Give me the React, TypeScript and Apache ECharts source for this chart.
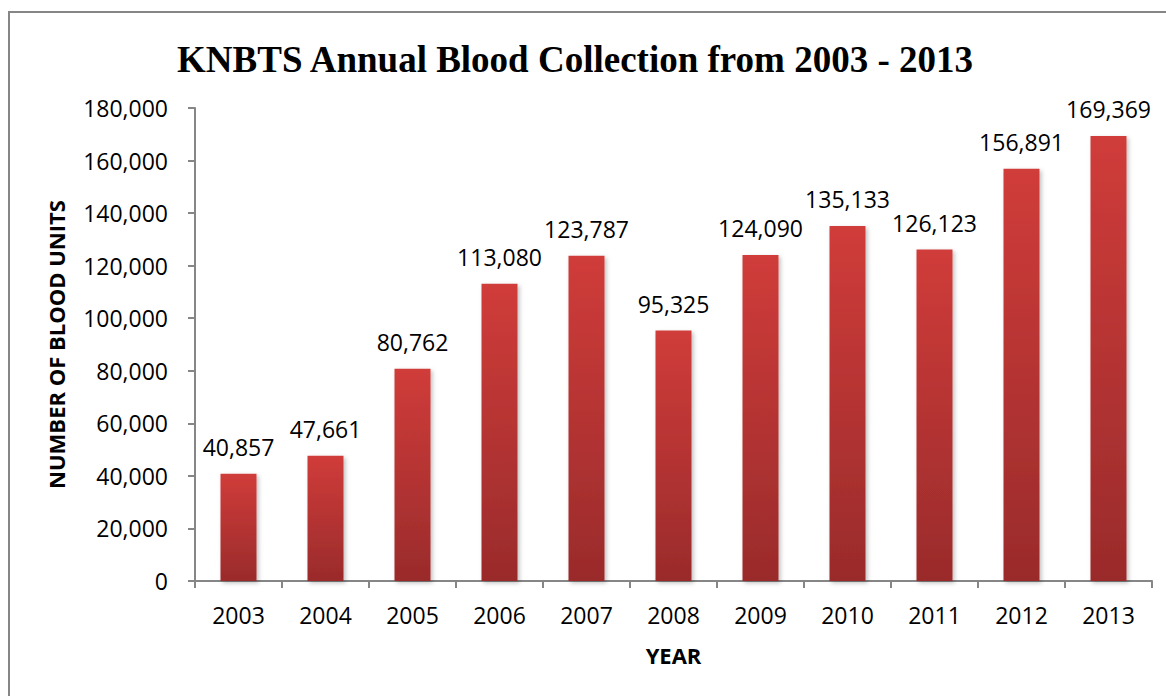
import React, { useEffect, useRef } from "react";
import * as echarts from "echarts";

const years = ["2003", "2004", "2005", "2006", "2007", "2008", "2009", "2010", "2011", "2012", "2013"];
const units = [40857, 47661, 80762, 113080, 123787, 95325, 124090, 135133, 126123, 156891, 169369];
const titleText = "KNBTS Annual Blood Collection from 2003 - 2013";
const yAxisName = "NUMBER OF BLOOD UNITS";
const xAxisName = "YEAR";

const fmt = (v: number) => v.toLocaleString("en-US");
const FONT = "'Open Sans', 'Noto Sans', sans-serif";
const GRAY = "#868686";

export default function App() {
  const ref = useRef<HTMLDivElement>(null);
  useEffect(() => {
    if (!ref.current) return;
    const chart = echarts.init(ref.current, undefined, { renderer: "svg" });
    chart.setOption({
      animation: false,
      backgroundColor: "#ffffff",
      title: {
        text: titleText,
        left: 570,
        top: 36,
        textAlign: "center",
        textStyle: {
          fontFamily: "'Liberation Serif', 'Times New Roman', serif",
          fontWeight: "bold",
          fontSize: 37,
          color: "#000",
        },
      },
      graphic: [
        {
          type: "rect",
          shape: { x: 9, y: 12, width: 1200, height: 800 },
          style: { fill: "none", stroke: GRAY, lineWidth: 2 },
          silent: true,
        },
      ],
      grid: { left: 195, right: 14, top: 108, bottom: 115 },
      xAxis: {
        type: "category",
        data: years,
        name: xAxisName,
        nameLocation: "middle",
        nameGap: 63,
        nameTextStyle: { fontFamily: FONT, fontWeight: "bold", fontSize: 22, color: "#000" },
        axisLine: { lineStyle: { color: GRAY, width: 2 } },
        axisTick: { show: true, length: 7, lineStyle: { color: GRAY, width: 2 } },
        axisLabel: { fontFamily: FONT, fontSize: 23, color: "#000", margin: 22 },
      },
      yAxis: {
        type: "value",
        min: 0,
        max: 180000,
        interval: 20000,
        name: yAxisName,
        nameLocation: "middle",
        nameRotate: 90,
        nameGap: 128,
        nameTextStyle: { fontFamily: FONT, fontWeight: "bold", fontSize: 22, color: "#000" },
        axisLine: { show: true, lineStyle: { color: GRAY, width: 2 } },
        axisTick: { show: true, length: 7, lineStyle: { color: GRAY, width: 2 } },
        splitLine: { show: false },
        axisLabel: { fontFamily: FONT, fontSize: 23, color: "#000", margin: 27, formatter: (v: number) => fmt(v) },
      },
      series: [
        {
          type: "bar",
          data: units,
          barWidth: 36,
          itemStyle: {
            color: new echarts.graphic.LinearGradient(0, 0, 0, 1, [
              { offset: 0, color: "#d03c3a" },
              { offset: 1, color: "#9a2b2b" },
            ]),
            shadowColor: "rgba(0,0,0,0.25)",
            shadowBlur: 4,
            shadowOffsetX: 2,
            shadowOffsetY: 2,
          },
          label: {
            show: true,
            position: "top",
            distance: 15,
            fontFamily: FONT,
            fontSize: 23,
            color: "#000",
            formatter: (p: any) => fmt(p.value),
          },
        },
      ],
    });
    return () => chart.dispose();
  }, []);
  return (
    <div
      ref={ref}
      style={{ position: "absolute", left: 0, top: 0, width: 1166, height: 696 }}
    />
  );
}
